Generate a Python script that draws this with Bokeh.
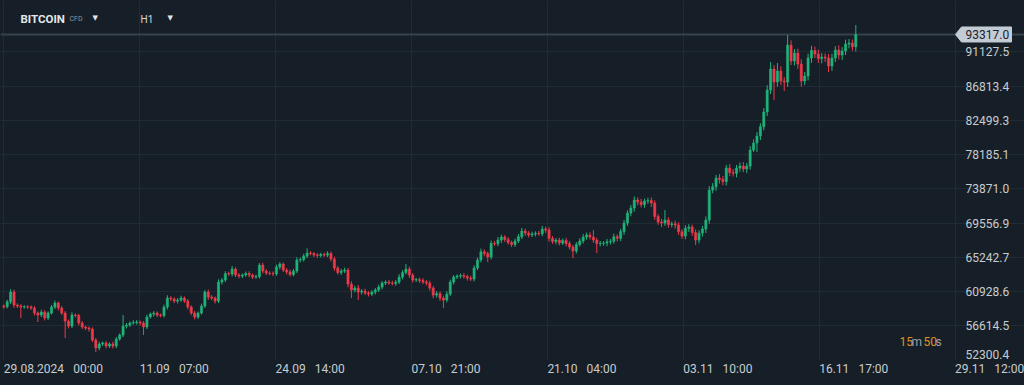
from bokeh.plotting import figure
from bokeh.layouts import column
from bokeh.models import Range1d, FixedTicker, Label, Span, ColumnDataSource, GlobalInlineStyleSheet
from bokeh.embed import file_html
from bokeh.resources import INLINE

# ---------------- data ----------------
candle_hours = 8
first_open = 59100
closes = [
    59008, 59638, 60860, 59222, 59096, 58970, 59008, 58970, 58844, 58214,
    57962, 58340, 57584, 58214, 58970, 59474, 58844, 58214, 57206, 56576,
    57962, 57900, 56954, 56450, 56324, 56198, 54812, 53804, 54308, 54434,
    54056, 54308, 54056, 54938, 55442, 56576, 56702, 56954, 57010, 57080,
    56954, 56450, 57710, 58088, 58214, 57962, 57899, 58970, 60104, 59978,
    59726, 59852, 60104, 59726, 58970, 58214, 57710, 58214, 59096, 60860,
    60230, 60104, 59726, 62120, 62372, 63191, 63128, 63758, 63002, 62876,
    63002, 63191, 63002, 62750, 62810, 64262, 63506, 63254, 63216, 63160,
    64010, 64388, 63632, 63380, 63065, 63506, 64892, 64955, 65396, 65774,
    65711, 65522, 65460, 65590, 65520, 65711, 65018, 63884, 63317, 63506,
    63632, 61868, 61112, 61364, 60860, 60986, 60734, 60608, 60860, 61112,
    61490, 61994, 62120, 61994, 61956, 62120, 62750, 63317, 63758, 63002,
    62372, 62430, 62309, 62120, 61994, 61364, 60482, 60671, 60104, 59852,
    60608, 62120, 62750, 62876, 62939, 62813, 62624, 62498, 63884, 64892,
    65938, 65711, 65270, 66996, 66940, 67412, 67790, 67475, 67097, 66845,
    67286, 67828, 68546, 68294, 68042, 68168, 68256, 68200, 68798, 68672,
    67626, 67223, 67412, 67034, 67349, 66971, 66530, 66026, 66845, 67286,
    67790, 68042, 67790, 67412, 66971, 66996, 67034, 67198, 67260, 67828,
    67626, 68483, 69554, 70814, 71444, 72452, 72200, 71885, 72326, 72389,
    72074, 70373, 69680, 69554, 69932, 69365, 69453, 69302, 68458, 67916,
    68886, 69050, 68357, 67412, 68294, 68798, 69932, 73712, 74128, 75224,
    75035, 74783, 76484, 75917, 75816, 76484, 76736, 76358, 76736, 78752,
    79634, 80516, 81688, 83540, 86312, 88958, 87320, 88706, 87446, 87320,
    91982, 89966, 90974, 89588, 87446, 88076, 90344, 91289, 90848, 90281,
    90470, 90344, 89336, 90344, 91352, 90722, 91226, 92108, 92234, 91768,
    93317.0,
]
wick_hi = [
    200, 250, 380, 300, 200, 250, 200, 180, 220, 250, 200, 300, 250, 200, 260, 300, 200, 240, 250, 200, 350, 200, 220, 250, 180,
    200, 220, 250, 300, 200, 250, 220, 300, 250, 200, 1386, 250, 200, 300, 250, 200, 250, 300, 200, 250, 220, 200, 300, 350, 250,
    220, 250, 300, 200, 250, 220, 250, 200, 300, 252, 300, 250, 200, 350, 250, 300, 250, 400, 220, 250, 200, 250, 300, 200, 250,
    252, 300, 250, 220, 250, 300, 250, 200, 250, 300, 250, 350, 250, 300, 592, 250, 200, 250, 220, 250, 300, 250, 300, 250, 280,
    300, 250, 350, 300, 400, 250, 300, 250, 220, 250, 300, 250, 220, 250, 300, 250, 350, 300, 630, 300, 250, 220, 250, 300, 250,
    300, 250, 300, 250, 300, 350, 300, 250, 220, 250, 300, 250, 300, 350, 300, 400, 300, 250, 350, 300, 400, 300, 250, 300, 250,
    300, 350, 400, 300, 250, 300, 250, 300, 400, 300, 350, 300, 250, 300, 250, 350, 300, 250, 300, 350, 400, 300, 350, 882, 300,
    300, 250, 350, 300, 400, 300, 350, 400, 350, 400, 450, 350, 400, 300, 350, 400, 350, 300, 400, 1260, 350, 300, 400, 350, 300,
    400, 350, 300, 400, 350, 400, 450, 500, 450, 400, 500, 450, 400, 500, 450, 400, 450, 500, 400, 500, 450, 500, 450, 500, 600,
    882, 500, 1008, 600, 500, 1260, 600, 500, 550, 600, 500, 550, 600, 500, 550, 500, 450, 500, 550, 500, 600, 500, 550, 500, 450, 1185,
]
wick_lo = [
    250, 200, 300, 350, 250, 1386, 200, 250, 220, 300, 882, 250, 300, 250, 200, 250, 300, 250, 2142, 300, 250, 220, 300, 250, 250,
    300, 250, 504, 300, 250, 300, 250, 300, 250, 200, 250, 300, 250, 200, 250, 300, 1008, 250, 200, 300, 250, 220, 250, 300, 250,
    250, 300, 220, 250, 300, 250, 300, 250, 200, 250, 350, 250, 300, 250, 300, 250, 220, 300, 250, 300, 250, 200, 300, 250, 220,
    250, 300, 250, 220, 300, 250, 300, 250, 300, 250, 220, 250, 300, 250, 250, 220, 250, 300, 250, 220, 250, 300, 350, 250, 300,
    250, 400, 1008, 300, 1008, 300, 250, 300, 250, 300, 250, 300, 250, 220, 250, 300, 250, 300, 250, 350, 300, 250, 300, 250, 300,
    300, 400, 300, 350, 1008, 300, 250, 300, 250, 300, 250, 300, 250, 300, 250, 300, 350, 630, 300, 250, 300, 350, 300, 250, 300,
    300, 250, 300, 350, 300, 250, 300, 250, 300, 350, 400, 300, 350, 300, 250, 350, 300, 882, 300, 250, 300, 350, 300, 350, 1197,
    350, 300, 400, 350, 300, 400, 350, 400, 350, 400, 450, 400, 350, 400, 350, 500, 400, 350, 504, 350, 400, 350, 450, 400, 350,
    400, 450, 400, 630, 400, 450, 500, 450, 400, 504, 500, 450, 500, 450, 400, 500, 450, 400, 500, 450, 252, 1134, 500, 450, 500,
    500, 2268, 600, 500, 1134, 600, 500, 550, 600, 718, 500, 550, 600, 500, 550, 600, 500, 756, 600, 500, 550, 600, 500, 550, 500, 600,
]
x_tick_hours = [0, 319, 638, 957, 1276, 1595, 1914, 2233]
x_tick_labels = ["29.08.2024\u2002 00:00", "11.09\u2002 07:00", "24.09\u2002 14:00", "07.10\u2002 21:00",
                 "21.10\u2002 04:00", "03.11\u2002 10:00", "16.11\u2002 17:00", "29.11\u2002 12:00"]
price_ticks = [52300.4, 56614.5, 60928.6, 65242.7, 69556.9, 73871.0, 78185.1, 82499.3, 86813.4, 91127.5]
last_price = closes[-1]
symbol, symbol_kind, timeframe = "BITCOIN", "CFD", "H1"
timer_parts = [("15", "num"), ("m", "unit"), ("50", "num"), ("s", "unit")]

# ---------------- style ----------------
BG = "#161f27"
GRID = "#212b35"
UP = "#1fb47a"
DOWN = "#ee3a4a"
TXT = "#c8ccd0"
W, H = 1024, 385
PX_PER_HOUR = 0.426
PRICE_PER_PX = 126.0
FRAME_H = 360
AXIS_H = H - FRAME_H
X0 = -3.3 / PX_PER_HOUR
Y0 = price_ticks[0] - 0.5 * PRICE_PER_PX

def hx(px):
    return X0 + px / PX_PER_HOUR

opens = [first_open] + closes[:-1]
xs = [i * candle_hours for i in range(len(closes))]
highs = [max(o, c) + w for o, c, w in zip(opens, closes, wick_hi)]
lows = [min(o, c) - w for o, c, w in zip(opens, closes, wick_lo)]
colors = [UP if c >= o else DOWN for o, c in zip(opens, closes)]
src = ColumnDataSource(dict(x=xs, o=opens, c=closes, h=highs, l=lows,
                            top=[max(o, c) for o, c in zip(opens, closes)],
                            bottom=[min(o, c) for o, c in zip(opens, closes)],
                            color=colors))

xr = Range1d(X0, X0 + W / PX_PER_HOUR)
p = figure(width=W, height=FRAME_H, output_backend="svg", toolbar_location=None,
           x_range=xr, y_range=Range1d(Y0, Y0 + FRAME_H * PRICE_PER_PX),
           y_axis_location=None, x_axis_location=None,
           min_border_left=0, min_border_right=0, min_border_top=0, min_border_bottom=0,
           background_fill_color=BG, border_fill_color=BG, outline_line_color=None)
p.stylesheets = [GlobalInlineStyleSheet(css="html,body{margin:0;padding:0;background:%s;overflow:hidden}" % BG)]

p.xgrid.ticker = FixedTicker(ticks=x_tick_hours)
p.ygrid.ticker = FixedTicker(ticks=price_ticks)
p.xgrid.grid_line_color = GRID
p.ygrid.grid_line_color = GRID

p.add_layout(Span(location=last_price, dimension="width", line_color="#36424d",
                  line_width=2, level="underlay"))

p.segment(x0="x", y0="h", x1="x", y1="l", line_color="color", line_width=1, source=src)
p.vbar(x="x", width=candle_hours * 0.62, top="top", bottom="bottom",
       fill_color="color", line_color="color", line_width=0.6, source=src)

# right-side price labels
for t in price_ticks:
    p.add_layout(Label(x=965, x_units="screen", y=t, y_units="data", text=f"{t:.1f}",
                       text_baseline="middle", text_align="left", text_color=TXT,
                       text_font="Roboto", text_font_size="12px",
                       y_offset=6 if t == price_ticks[0] else 0))

# current price marker
hh = 7.5 * PRICE_PER_PX
p.patch([hx(955), hx(961), hx(1011), hx(1011), hx(961)],
        [last_price, last_price + hh, last_price + hh, last_price - hh, last_price - hh],
        fill_color="#c3ccd4", line_color="#c3ccd4")
p.add_layout(Label(x=965, x_units="screen", y=last_price, y_units="data", text=f"{last_price:.1f}",
                   text_baseline="middle", text_align="left", text_color="#1a2129",
                   text_font="Roboto", text_font_size="12px"))

# header
def slabel(x, ypx, text, size, color, style="normal", font="Roboto"):
    p.add_layout(Label(x=x, y=FRAME_H - ypx, x_units="screen", y_units="screen", text=text,
                       text_baseline="middle", text_align="left", text_color=color,
                       text_font=font, text_font_size=size, text_font_style=style))

slabel(20, 18, symbol, "11.5px", "#e4e7ea", "bold")
slabel(69, 18.5, symbol_kind, "7px", "#8e979f")
slabel(92, 17, "\u25BC", "7px", "#e4e7ea", font="DejaVu Sans")
slabel(140, 18.5, timeframe, "10px", "#d5d9dc")
slabel(167, 17, "\u25BC", "7px", "#e4e7ea", font="DejaVu Sans")

# countdown
timer_x = [899, 911, 923, 935]
for (txt, kind), tx in zip(timer_parts, timer_x):
    col = "#e0901e" if kind == "num" else "#9aa1a8"
    slabel(tx, 341, txt, "12px", col)

# time axis strip (labels left-aligned at their grid line)
pa = figure(width=W, height=AXIS_H, output_backend="svg", toolbar_location=None,
            x_range=xr, y_range=Range1d(0, AXIS_H),
            y_axis_location=None, x_axis_location=None,
            min_border_left=0, min_border_right=0, min_border_top=0, min_border_bottom=0,
            background_fill_color=BG, border_fill_color=BG, outline_line_color=None)
pa.grid.visible = False
for t, s in zip(x_tick_hours, x_tick_labels):
    pa.add_layout(Label(x=t, x_units="data", y=AXIS_H - 8, y_units="data", text=s,
                        text_baseline="middle", text_align="left", text_color=TXT,
                        text_font="Roboto", text_font_size="12px"))

layout = column(p, pa, spacing=0)
open("out.html", "w").write(file_html(layout, INLINE))
